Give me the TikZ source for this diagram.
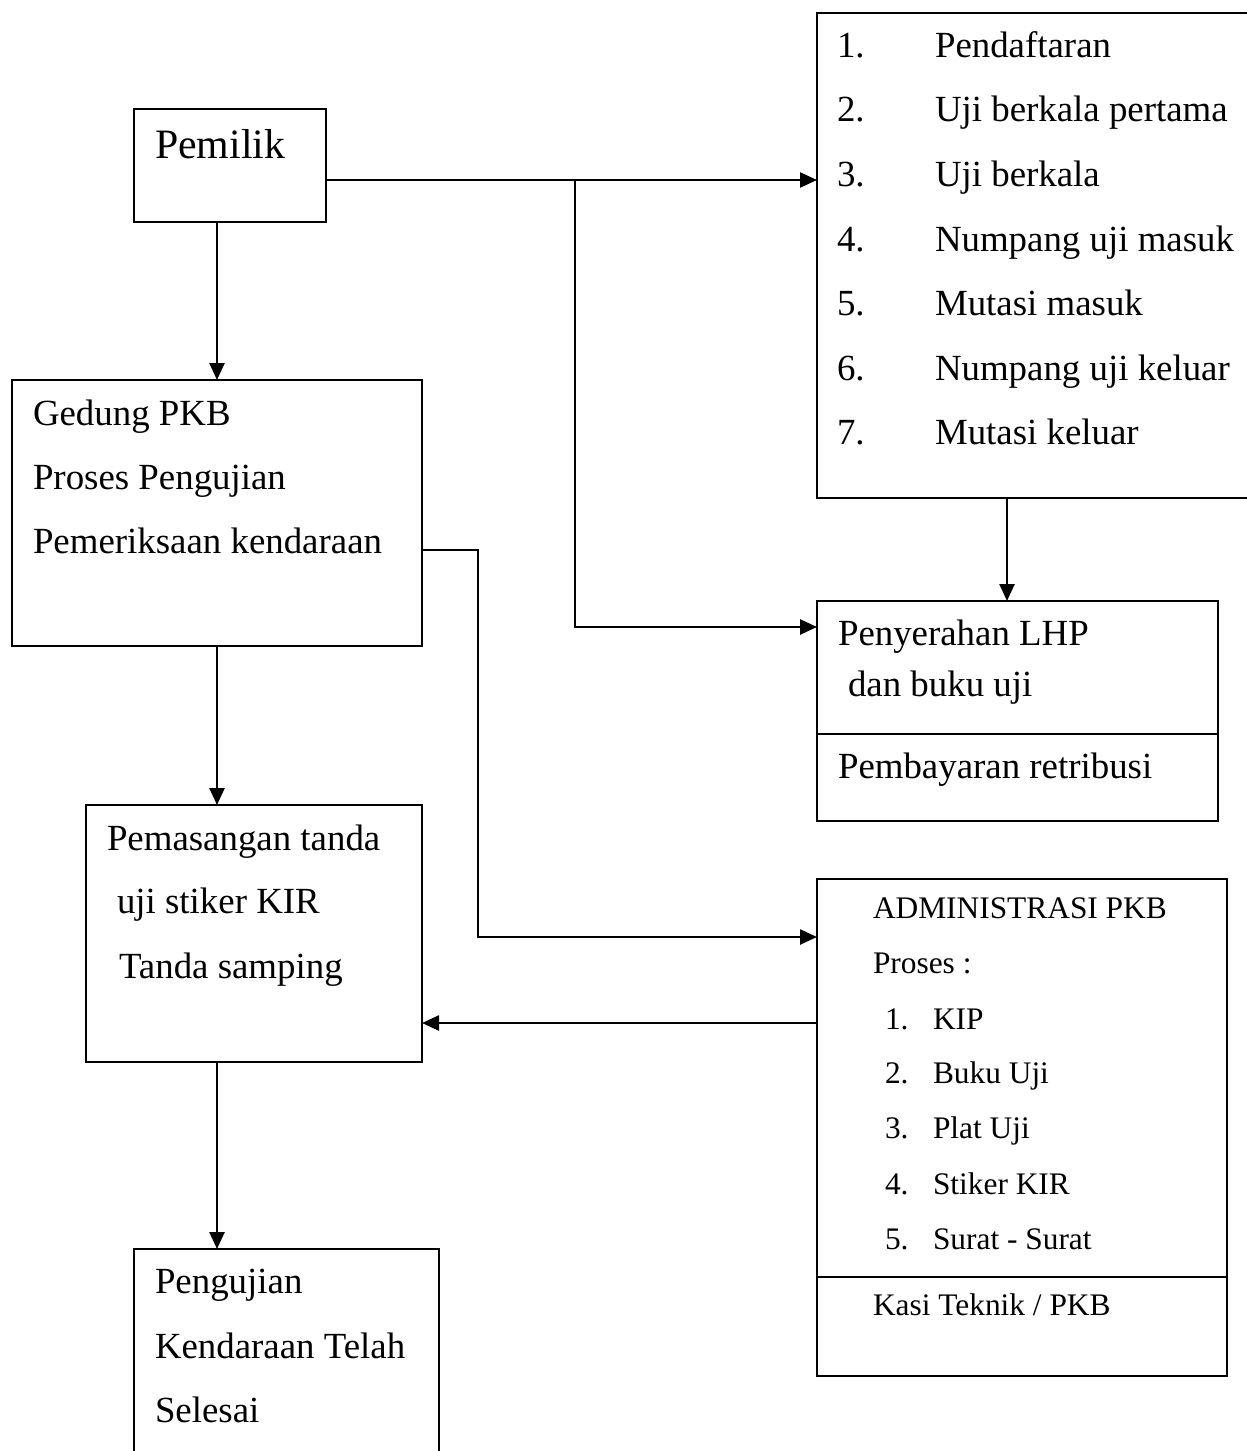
\documentclass[tikz,border=0pt]{standalone}
\usepackage{fontspec}
\setmainfont{Liberation Serif}
\usetikzlibrary{arrows.meta}
\begin{document}
\begin{tikzpicture}[x=1bp,y=-1bp,
  box/.style={draw, line width=2.3bp, rectangle, anchor=north west, inner sep=0pt, outer sep=0pt},
  txt/.style={anchor=base west, inner sep=0pt, outer sep=0pt, font=\fontsize{37}{44}\selectfont},
  smalltxt/.style={txt, font=\fontsize{31.5}{38}\selectfont},
  bigtxt/.style={txt, font=\fontsize{42}{50}\selectfont},
  conn/.style={line width=2.5bp},
  arr/.style={conn, -{Triangle[length=17bp,width=15bp]}}]
\useasboundingbox (0,0) rectangle (1246,1451);

% boxes
\node[box, minimum width=192bp, minimum height=113bp] (pemilik) at (134,109) {};
\node[box, minimum width=410bp, minimum height=266bp] (gedung) at (12,380) {};
\node[box, minimum width=450bp, minimum height=485bp] (list) at (817,13) {};
\node[box, minimum width=401bp, minimum height=220bp] (penyerahan) at (817,601) {};
\node[box, minimum width=410bp, minimum height=497bp] (admin) at (817,879) {};
\node[box, minimum width=336bp, minimum height=257bp] (pasang) at (86,805) {};
\node[box, minimum width=305bp, minimum height=260bp] (uji) at (134,1249) {};

% dividers
\coordinate (yDivP) at (0,734);
\coordinate (yDivA) at (0,1277);
\draw[line width=2.3bp] (penyerahan.west |- yDivP) -- (penyerahan.east |- yDivP);
\draw[line width=2.3bp] (admin.west |- yDivA) -- (admin.east |- yDivA);

% texts
\node[bigtxt] (tPemilik) at (155,159) {Pemilik};

\node[txt] (tG1) at (33,425) {Gedung PKB};
\node[txt] (tG2) at (33,489) {Proses Pengujian};
\node[txt] (tG3) at (33,553) {Pemeriksaan kendaraan};

\node[txt] (n1) at (837,58) {1.};  \node[txt] (l1) at (935,58) {Pendaftaran};
\node[txt] (n2) at (837,122) {2.}; \node[txt] (l2) at (935,122) {Uji berkala pertama};
\node[txt] (n3) at (837,187) {3.}; \node[txt] (l3) at (935,187) {Uji berkala};
\node[txt] (n4) at (837,251) {4.}; \node[txt] (l4) at (935,251) {Numpang uji masuk};
\node[txt] (n5) at (837,315) {5.}; \node[txt] (l5) at (935,315) {Mutasi masuk};
\node[txt] (n6) at (837,380) {6.}; \node[txt] (l6) at (935,380) {Numpang uji keluar};
\node[txt] (n7) at (837,444) {7.}; \node[txt] (l7) at (935,444) {Mutasi keluar};

\node[txt] (tP1) at (838,645) {Penyerahan LHP};
\node[txt] (tP2) at (848,696) {dan buku uji};
\node[txt] (tP3) at (838,778) {Pembayaran retribusi};

\node[smalltxt] (tA1) at (873,918) {ADMINISTRASI PKB};
\node[smalltxt] (tA2) at (873,973) {Proses :};
\node[smalltxt] (an1) at (885,1029) {1.}; \node[smalltxt] (ai1) at (933,1029) {KIP};
\node[smalltxt] (an2) at (885,1083) {2.}; \node[smalltxt] (ai2) at (933,1083) {Buku Uji};
\node[smalltxt] (an3) at (885,1138) {3.}; \node[smalltxt] (ai3) at (933,1138) {Plat Uji};
\node[smalltxt] (an4) at (885,1194) {4.}; \node[smalltxt] (ai4) at (933,1194) {Stiker KIR};
\node[smalltxt] (an5) at (885,1249) {5.}; \node[smalltxt] (ai5) at (933,1249) {Surat - Surat};
\node[smalltxt] (tA3) at (873,1315) {Kasi Teknik / PKB};

\node[txt] (tS1) at (107,850) {Pemasangan tanda};
\node[txt] (tS2) at (117,913) {uji stiker KIR};
\node[txt] (tS3) at (119,978) {Tanda samping};

\node[txt] (tU1) at (155,1293) {Pengujian};
\node[txt] (tU2) at (155,1358) {Kendaraan Telah};
\node[txt] (tU3) at (155,1422) {Selesai};

% connectors
\coordinate (yPem) at (0,180);
\coordinate (branch) at (575,180);
\coordinate (yPen) at (0,627);
\coordinate (xList) at (1007,0);
\coordinate (yG) at (0,550);
\coordinate (xG) at (478,0);
\coordinate (yA) at (0,937);
\coordinate (yB) at (0,1023);

\draw[arr] (pemilik.south -| gedung.north) -- (gedung.north);
\draw[arr] (pemilik.east |- yPem) -- (list.west |- yPem);
\draw[arr] (branch) |- (penyerahan.west |- yPen);
\draw[arr] (list.south -| xList) -- (penyerahan.north -| xList);
\draw[arr] (gedung.east |- yG) -| (xG |- yA) -- (admin.west |- yA);
\draw[arr] (admin.west |- yB) -- (pasang.east |- yB);
\draw[arr] (gedung.south) -- (gedung.south |- pasang.north);
\draw[arr] (pasang.south -| gedung.south) -- (uji.north -| gedung.south);
\end{tikzpicture}
\end{document}
